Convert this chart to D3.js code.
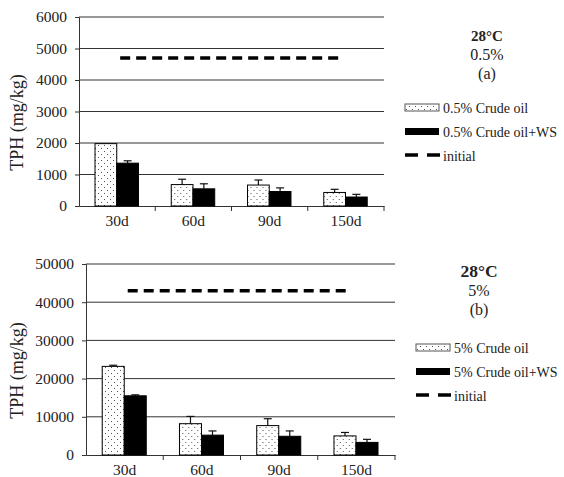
<!DOCTYPE html>
<html>
<head>
<meta charset="utf-8">
<script src="https://cdn.jsdelivr.net/npm/d3@7"></script>
<style>
  body { margin: 0; background: #fff; }
  svg { font-family: "Liberation Serif", "Times New Roman", serif; }
</style>
</head>
<body>
<svg id="chart" width="564" height="477"></svg>
<script>
const days = ["30d", "60d", "90d", "150d"]

// panel (a) 0.5%
const crudeA = [1980, 680, 665, 430]
const crudeAErr = [0, 170, 160, 100]
const wsA = [1360, 545, 460, 285]
const wsAErr = [75, 160, 115, 85]
const initialA = 4700
const ticksA = [0, 1000, 2000, 3000, 4000, 5000, 6000]

// panel (b) 5%
const crudeB = [23200, 8200, 7700, 5000]
const crudeBErr = [300, 1900, 1800, 900]
const wsB = [15500, 5200, 4900, 3300]
const wsBErr = [250, 1100, 1400, 800]
const initialB = 43000
const ticksB = [0, 10000, 20000, 30000, 40000, 50000]

const svg = d3.select("#chart")

// dotted fill for crude oil bars
const pat = svg.append("defs").append("pattern")
  .attr("id", "dots")
  .attr("patternUnits", "userSpaceOnUse")
  .attr("width", 6).attr("height", 6)
pat.append("rect").attr("width", 6).attr("height", 6).attr("fill", "#fff")
pat.append("rect").attr("x", 1).attr("y", 1).attr("width", 1).attr("height", 1).attr("fill", "#555")
pat.append("rect").attr("x", 4).attr("y", 4).attr("width", 1).attr("height", 1).attr("fill", "#555")

function panel(p) {
  const g = svg.append("g")

  const x = d3.scaleBand().domain(days).range([p.left, p.right])
  const bw = x.bandwidth()
  const x1 = d3.scaleBand().domain(["crude", "ws"]).range([bw * 0.21, bw * 0.78])
  const y = d3.scaleLinear().domain([0, p.ticks[p.ticks.length - 1]]).range([p.bottom, p.top])

  // gridlines
  g.append("g").selectAll("line")
    .data(p.ticks.slice(1))
    .join("line")
    .attr("x1", p.left).attr("x2", p.right)
    .attr("y1", d => y(d)).attr("y2", d => y(d))
    .attr("stroke", "#333").attr("stroke-width", 1)

  // y axis
  const yAx = g.append("g")
    .attr("transform", `translate(${p.left},0)`)
    .call(d3.axisLeft(y).tickValues(p.ticks).tickSize(4).tickPadding(8).tickFormat(d3.format("d")))
  yAx.selectAll("text").attr("font-size", 15.5).attr("fill", "#222").attr("font-family", "Liberation Serif")
  yAx.selectAll("line, path").attr("stroke", "#333")

  // x axis
  const xAx = g.append("g")
    .attr("transform", `translate(0,${p.bottom})`)
    .call(d3.axisBottom(x).tickSize(0).tickPadding(9))
  xAx.select(".domain").attr("stroke", "#333")
  xAx.selectAll("text").attr("font-size", 15.5).attr("fill", "#222").attr("font-family", "Liberation Serif")
  g.append("g").selectAll("line")
    .data(days.map(d => x(d) + bw))
    .join("line")
    .attr("x1", d => d).attr("x2", d => d)
    .attr("y1", p.bottom).attr("y2", p.bottom + 5)
    .attr("stroke", "#333")

  const rows = days.map((d, i) => ({
    day: d,
    vals: [
      { k: "crude", v: p.crude[i], e: p.crudeErr[i] },
      { k: "ws", v: p.ws[i], e: p.wsErr[i] }
    ]
  }))

  const grp = g.append("g").selectAll("g")
    .data(rows)
    .join("g")
    .attr("transform", d => `translate(${x(d.day)},0)`)

  // error bars behind bars
  grp.selectAll(".err")
    .data(d => d.vals.filter(v => v.e > 0))
    .join("g")
    .attr("class", "err")
    .each(function(d) {
      const cx = x1(d.k) + x1.bandwidth() / 2
      const s = d3.select(this)
      s.append("line").attr("x1", cx).attr("x2", cx)
        .attr("y1", y(d.v)).attr("y2", y(d.v + d.e))
        .attr("stroke", "#111").attr("stroke-width", 1.2)
      s.append("line").attr("x1", cx - 4).attr("x2", cx + 4)
        .attr("y1", y(d.v + d.e)).attr("y2", y(d.v + d.e))
        .attr("stroke", "#111").attr("stroke-width", 1.2)
    })

  grp.selectAll("rect")
    .data(d => d.vals)
    .join("rect")
    .attr("x", d => x1(d.k))
    .attr("width", x1.bandwidth())
    .attr("y", d => y(d.v))
    .attr("height", d => p.bottom - y(d.v))
    .attr("fill", d => d.k === "crude" ? "url(#dots)" : "#000")
    .attr("stroke", "#000").attr("stroke-width", 1)

  // initial level
  g.append("line")
    .attr("x1", x(days[0]) + bw * 0.54)
    .attr("x2", x(days[days.length - 1]) + bw * 0.4)
    .attr("y1", y(p.initial)).attr("y2", y(p.initial))
    .attr("stroke", "#000").attr("stroke-width", 3.5)
    .attr("stroke-dasharray", "10,6")

  // y label
  g.append("text")
    .attr("transform", `translate(23,${(p.top + p.bottom) / 2 + 11}) rotate(-90)`)
    .attr("text-anchor", "middle")
    .attr("font-size", 18).attr("fill", "#222")
    .text("TPH (mg/kg)")

  // title block
  const t = g.append("g").attr("text-anchor", "middle").attr("fill", "#222")
  t.append("text").attr("x", p.titleX).attr("y", p.titleY)
    .attr("font-size", p.titleSize).attr("font-weight", "bold").text("28°C")
  t.append("text").attr("x", p.titleX).attr("y", p.titleY + 19)
    .attr("font-size", 16).text(p.conc)
  t.append("text").attr("x", p.titleX).attr("y", p.titleY + 38)
    .attr("font-size", 16).text(p.tag)

  // legend
  const lg = g.append("g").attr("transform", `translate(${p.legX},${p.legY})`)
  lg.append("rect").attr("x", 0).attr("y", -4).attr("width", 34).attr("height", 7)
    .attr("fill", "url(#dots)").attr("stroke", "#555").attr("stroke-width", 1)
  lg.append("rect").attr("x", 0).attr("y", 20).attr("width", 34).attr("height", 7)
    .attr("fill", "#000")
  lg.append("line").attr("x1", 0).attr("x2", 35).attr("y1", 47).attr("y2", 47)
    .attr("stroke", "#000").attr("stroke-width", 3.5).attr("stroke-dasharray", "13,9")
  const labels = [p.conc + " Crude oil", p.conc + " Crude oil+WS", "initial"]
  lg.selectAll("text.lab")
    .data(labels)
    .join("text")
    .attr("class", "lab")
    .attr("x", 38).attr("y", (d, i) => i * 24 + 5)
    .attr("font-size", 14).attr("fill", "#222")
    .text(d => d)
}

panel({
  left: 79, right: 384, top: 17, bottom: 206,
  ticks: ticksA, crude: crudeA, crudeErr: crudeAErr, ws: wsA, wsErr: wsAErr,
  initial: initialA, conc: "0.5%", tag: "(a)",
  titleX: 487, titleY: 41, titleSize: 15, legX: 405, legY: 108
})

panel({
  left: 86, right: 395, top: 264, bottom: 455,
  ticks: ticksB, crude: crudeB, crudeErr: crudeBErr, ws: wsB, wsErr: wsBErr,
  initial: initialB, conc: "5%", tag: "(b)",
  titleX: 479, titleY: 277, titleSize: 17.5, legX: 416, legY: 348
})
</script>
</body>
</html>
